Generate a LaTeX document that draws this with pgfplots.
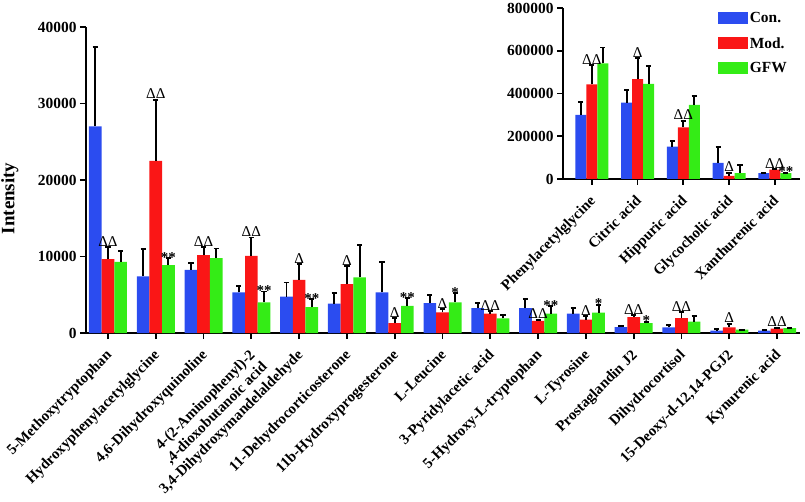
\documentclass[border=0pt]{standalone}
\usepackage{pgfplots}
\pgfplotsset{compat=1.18}
\usepackage{fontspec}
\setmainfont{Liberation Serif}
\definecolor{cblue}{RGB}{43,76,240}
\definecolor{cred}{RGB}{250,22,22}
\definecolor{cgreen}{RGB}{52,236,22}
\pgfplotsset{
  mybar/.style={ybar, bar width=#1, bar shift=0, draw=none,
    error bars/y dir=plus, error bars/y explicit,
    error bars/error mark=-,
    error bars/error bar style={line width=1.9bp, black},
    error bars/error mark options={rotate=90, line width=1.9bp, mark size=2.6bp, black}},
  ann/.style={draw=none, mark=none, forget plot, nodes near coords, point meta=explicit symbolic,
    every node near coord/.style={anchor=south, inner sep=0.5bp, font=\fontsize{15}{15}\selectfont, black}},
  annstar/.style={draw=none, mark=none, forget plot, nodes near coords, point meta=explicit symbolic,
    every node near coord/.style={anchor=south, inner sep=0.5bp, yshift=-5bp, font=\bfseries\fontsize{15}{15}\selectfont, black}},
  common/.style={
    scale only axis,
    axis x line*=bottom, axis y line*=left,
    axis line style={line width=1.8bp, -},
    tick align=outside, tick style={line width=1.8bp, black},
    major tick length=6bp,
    ytick pos=left, xtick pos=bottom,
    /pgf/number format/assume math mode=true,
    /pgf/number format/fixed,
    /pgf/number format/1000 sep={},
    scaled y ticks=false,
    ymin=0,
    ticklabel style={font=\bfseries\fontsize{15.5}{17}\selectfont},
    xticklabel shift=8bp,
    xticklabel style={font=\bfseries\fontsize{15}{17}\selectfont, xshift=-3bp, rotate=45, anchor=north east, align=right, inner sep=1bp},
  },
}
\begin{document}
\begin{tikzpicture}
\useasboundingbox (-86bp,-169bp) rectangle (719bp,333bp);
\begin{axis}[common,
  width=714bp, height=306bp,
  xmin=-0.46, xmax=14.48, ymax=40000,
  ytick={0,10000,20000,30000,40000},
  xtick={0,...,14},
  xticklabels={5-Methoxytryptophan, Hydroxyphenylacetylglycine, {4,6-Dihydroxyquinoline}, {4-(2-Aminophenyl)-2\\,4-dioxobutanoic acid}, {3,4-Dihydroxymandelaldehyde}, 11-Dehydrocorticosterone, 11b-Hydroxyprogesterone, L-Leucine, 3-Pyridylacetic acid, 5-Hydroxy-L-tryptophan, L-Tyrosine, Prostaglandin J2, Dihydrocortisol, {15-Deoxy-d-12,14-PGJ2}, Kynurenic acid},
  ylabel={Intensity},
  ylabel style={at={(axis description cs:-0.1065,0.44)}, anchor=center, font=\bfseries\fontsize{19}{21}\selectfont},
]
% Con.
\addplot[mybar=0.265, fill=cblue] coordinates {
(-0.265,27000) +- (0,10400) (0.735,7400) +- (0,3600) (1.735,8260) +- (0,870) (2.735,5300) +- (0,870)
(3.735,4740) +- (0,1860) (4.735,3830) +- (0,1390) (5.735,5300) +- (0,4040) (6.735,3910) +- (0,1090)
(7.735,3260) +- (0,650) (8.735,3260) +- (0,1170) (9.735,2520) +- (0,740) (10.735,780) +- (0,120)
(11.735,740) +- (0,350) (12.735,300) +- (0,220) (13.735,300) +- (0,50)};
% Mod.
\addplot[mybar=0.265, fill=cred] coordinates {
(0,9650) +- (0,1550) (1,22500) +- (0,8000) (2,10170) +- (0,1090) (3,10090) +- (0,2390)
(4,6960) +- (0,2040) (5,6390) +- (0,2310) (6,1300) +- (0,660) (7,2690) +- (0,440)
(8,2520) +- (0,300) (9,1600) +- (0,140) (10,1740) +- (0,520) (11,2090) +- (0,300)
(12,1960) +- (0,740) (13,740) +- (0,480) (14,560) +- (0,140)};
% GFW
\addplot[mybar=0.265, fill=cgreen] coordinates {
(0.265,9300) +- (0,1400) (1.265,8870) +- (0,930) (2.265,9780) +- (0,1260) (3.265,4000) +- (0,1430)
(4.265,3390) +- (0,1000) (5.265,7260) +- (0,4220) (6.265,3560) +- (0,1010) (7.265,4000) +- (0,1220)
(8.265,1910) +- (0,480) (9.265,2520) +- (0,960) (10.265,2650) +- (0,1050) (11.265,1300) +- (0,180)
(12.265,1480) +- (0,780) (13.265,430) +- (0,20) (14.265,650) +- (0,50)};
% annotations
\addplot[ann] coordinates {
(0,11200) [ΔΔ] (1,30500) [ΔΔ] (2,11260) [ΔΔ] (3,12480) [ΔΔ] (4,9000) [Δ]
(5,8700) [Δ] (6,1960) [Δ] (7,3130) [Δ] (8,2820) [ΔΔ] (9,1740) [ΔΔ]
(10,2260) [Δ] (11,2390) [ΔΔ] (12,2700) [ΔΔ] (13,1220) [Δ] (14,700) [ΔΔ]};
\addplot[annstar] coordinates {
(1.265,9800) [**] (3.265,5430) [**] (4.265,4390) [**] (6.265,4570) [**]
(7.265,5220) [*] (9.265,3480) [**] (10.265,3700) [*] (11.265,1480) [*]};
\end{axis}

\begin{axis}[common, at={(477bp,154bp)}, anchor=south west,
  width=237bp, height=171bp,
  xmin=-0.63, xmax=4.55, ymax=800000,
  ytick={0,200000,400000,600000,800000},
  xtick={0,...,4},
  xticklabels={Phenylacetylglycine, Citric acid, Hippuric acid, Glycocholic acid, Xanthurenic acid},
  legend style={at={(rel axis cs:0.655,0.985)}, anchor=north west, draw=none, fill=none,
    font=\bfseries\fontsize{15.5}{17}\selectfont, row sep=9bp, inner sep=0pt, cells={anchor=west}},
]
\addlegendimage{legend image code/.code={\fill[cblue] (0bp,-5bp) rectangle (29bp,6bp);}}
\addlegendentry{Con.}
\addlegendimage{legend image code/.code={\fill[cred] (0bp,-5bp) rectangle (29bp,6bp);}}
\addlegendentry{Mod.}
\addlegendimage{legend image code/.code={\fill[cgreen] (0bp,-5bp) rectangle (29bp,6bp);}}
\addlegendentry{GFW}
\addplot[mybar=0.24, fill=cblue, forget plot] coordinates {
(-0.24,300000) +- (0,62000) (0.76,357000) +- (0,60000) (1.76,151000) +- (0,28000) (2.76,76000) +- (0,72000) (3.76,28000) +- (0,2000)};
\addplot[mybar=0.24, fill=cred, forget plot] coordinates {
(0,443000) +- (0,91000) (1,467000) +- (0,98000) (2,242000) +- (0,31000) (3,15000) +- (0,15000) (4,44000) +- (0,4000)};
\addplot[mybar=0.24, fill=cgreen, forget plot] coordinates {
(0.24,541000) +- (0,74000) (1.24,445000) +- (0,84000) (2.24,347000) +- (0,42000) (3.24,27000) +- (0,39000) (4.24,28000) +- (0,2000)};
\addplot[ann] coordinates {
(0,534000) [ΔΔ] (1,565000) [Δ] (2,273000) [ΔΔ] (3,30000) [Δ] (4,48000) [ΔΔ]};
\addplot[annstar] coordinates {(4.24,30000) [**]};
\end{axis}
\end{tikzpicture}
\end{document}
